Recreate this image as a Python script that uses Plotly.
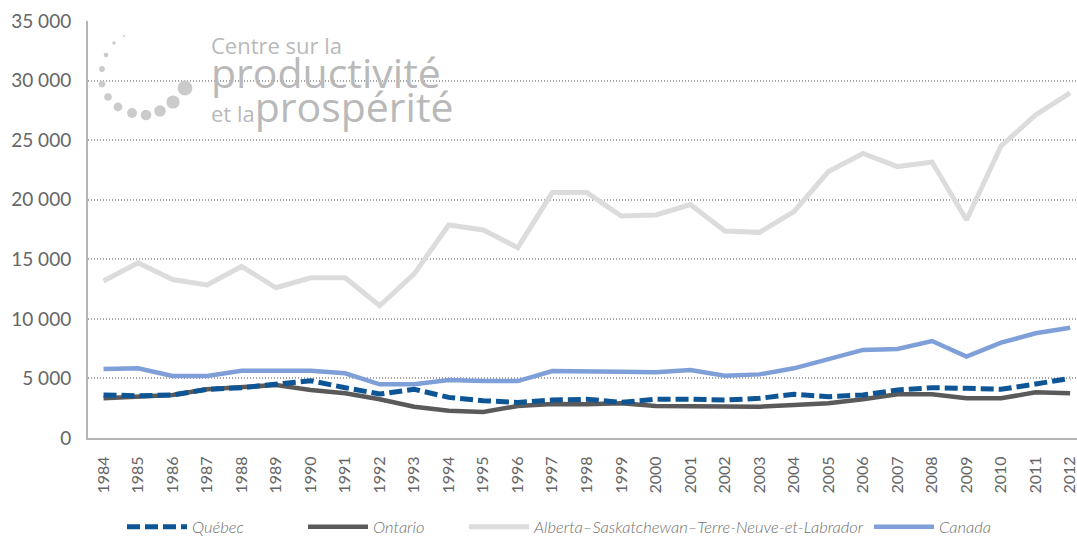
import plotly.graph_objects as go

years = [str(y) for y in range(1984, 2013)]

quebec = [3610, 3550, 3610, 4085, 4220, 4500, 4810, 4220, 3690, 4085, 3410, 3130, 2990, 3190,
          3250, 2990, 3250, 3250, 3190, 3330, 3670, 3470, 3610, 4030, 4220, 4170, 4085, 4530, 5010]
ontario = [3330, 3470, 3610, 4085, 4250, 4450, 4030, 3750, 3250, 2630, 2290, 2180, 2690, 2850,
           2830, 2910, 2690, 2690, 2690, 2630, 2770, 2910, 3250, 3670, 3670, 3330, 3330, 3830, 3750]
alberta = [13180, 14700, 13300, 12840, 14400, 12610, 13450, 13450, 11100, 13780, 17880, 17460, 15980, 20600,
           20600, 18630, 18720, 19590, 17370, 17260, 19000, 22360, 23880, 22780, 23160, 18300, 24510, 27110, 28960]
canada = [5790, 5850, 5200, 5200, 5650, 5650, 5650, 5430, 4510, 4510, 4870, 4780, 4780, 5620,
          5620, 5570, 5510, 5710, 5230, 5340, 5850, 6600, 7390, 7470, 8140, 6830, 8000, 8790, 9260]

series_names = ["Québec", "Ontario", "Alberta–Saskatchewan–Terre-Neuve-et-Labrador", "Canada"]
y_ticks = [0, 5000, 10000, 15000, 20000, 25000, 30000, 35000]

# layout geometry (pixels)
L, R, T, B = 88, 0, 21, 98
W, H = 1077, 536
PW, PH = W - L - R, H - T - B


def px(x):
    return (x - L) / PW


def py(y):
    return (H - B - y) / PH


fig = go.Figure()

styles = [
    dict(color="#0d5595", width=5, dash="13px,5px"),
    dict(color="#5a5a5a", width=4.5),
    dict(color="#dcdcdc", width=5),
    dict(color="#7f9fd9", width=4.5),
]
legends = ["legend", "legend2", "legend3", "legend4"]
data = [quebec, ontario, alberta, canada]
order = [2, 3, 1, 0]  # draw order: Alberta, Canada, Ontario, Québec
for i in order:
    fig.add_trace(go.Scatter(
        x=years, y=data[i], mode="lines", name=series_names[i],
        line=styles[i], legend=legends[i], hoverinfo="skip"
    ))

legend_x = [122, 303, 464, 869]
legend_common = dict(
    orientation="h", yanchor="middle", xanchor="left", y=py(527),
    font=dict(family="Lato", size=16.5, color="#707070", style="italic", weight=300),
    itemwidth=60, bgcolor="rgba(0,0,0,0)", borderwidth=0,
)
layout_legends = {}
for i, lg in enumerate(legends):
    layout_legends[lg] = dict(x=px(legend_x[i]), **legend_common)

fig.update_layout(
    width=W, height=H,
    margin=dict(l=L, r=R, t=T, b=B, pad=0, autoexpand=False),
    paper_bgcolor="white", plot_bgcolor="white",
    separators=", ",
    showlegend=True,
    **layout_legends,
    xaxis=dict(
        type="category", range=[-0.45, 28.2], automargin=False,
        tickangle=-90, tickfont=dict(family="Lato", size=16, color="#666666"),
        showgrid=False, showline=True, linecolor="#b5b5b5", linewidth=2,
        ticks="", ticklabelstandoff=10,
    ),
    yaxis=dict(
        range=[0, 35000], tickvals=y_ticks, tickformat=",d", automargin=False,
        tickfont=dict(family="Lato", size=19, color="#666666"),
        showgrid=True, gridcolor="#a5a5a5", griddash="1px,2px", gridwidth=1.5,
        zeroline=False, showline=True, linecolor="#b5b5b5", linewidth=2,
        ticks="", ticklabelstandoff=11,
    ),
)

# logo: dots arc
dots = [(124, 36, 1.0), (114, 43, 1.7), (106, 55, 2.3), (102, 69, 2.9), (102, 84, 3.3),
        (108, 97, 3.8), (118, 107, 4.4), (132, 113, 4.9), (146, 115, 5.3), (160, 111, 5.8),
        (173, 102, 6.6), (185, 88, 7.4)]
for (cx, cy, r) in dots:
    fig.add_shape(type="circle", xref="paper", yref="paper",
                  x0=px(cx - r), x1=px(cx + r), y0=py(cy + r), y1=py(cy - r),
                  fillcolor="#cbcbcb", line=dict(width=0), layer="above")

logo_text = ("<span style='font-size:22px'>Centre sur la</span><br>"
             "<span style='font-size:41px'>productivité</span><br>"
             "<span style='font-size:22px'>et la</span><span style='font-size:41px'>prospérité</span>")
fig.add_annotation(text=logo_text, xref="paper", yref="paper", x=px(209), y=py(28),
                   xanchor="left", yanchor="top", align="left", showarrow=False,
                   font=dict(family="Open Sans", size=26, color="#b9b9b9"))

fig.write_html("out.html", config={"displayModeBar": False},
               post_script="document.body.style.margin='0';document.body.style.overflow='hidden';")
